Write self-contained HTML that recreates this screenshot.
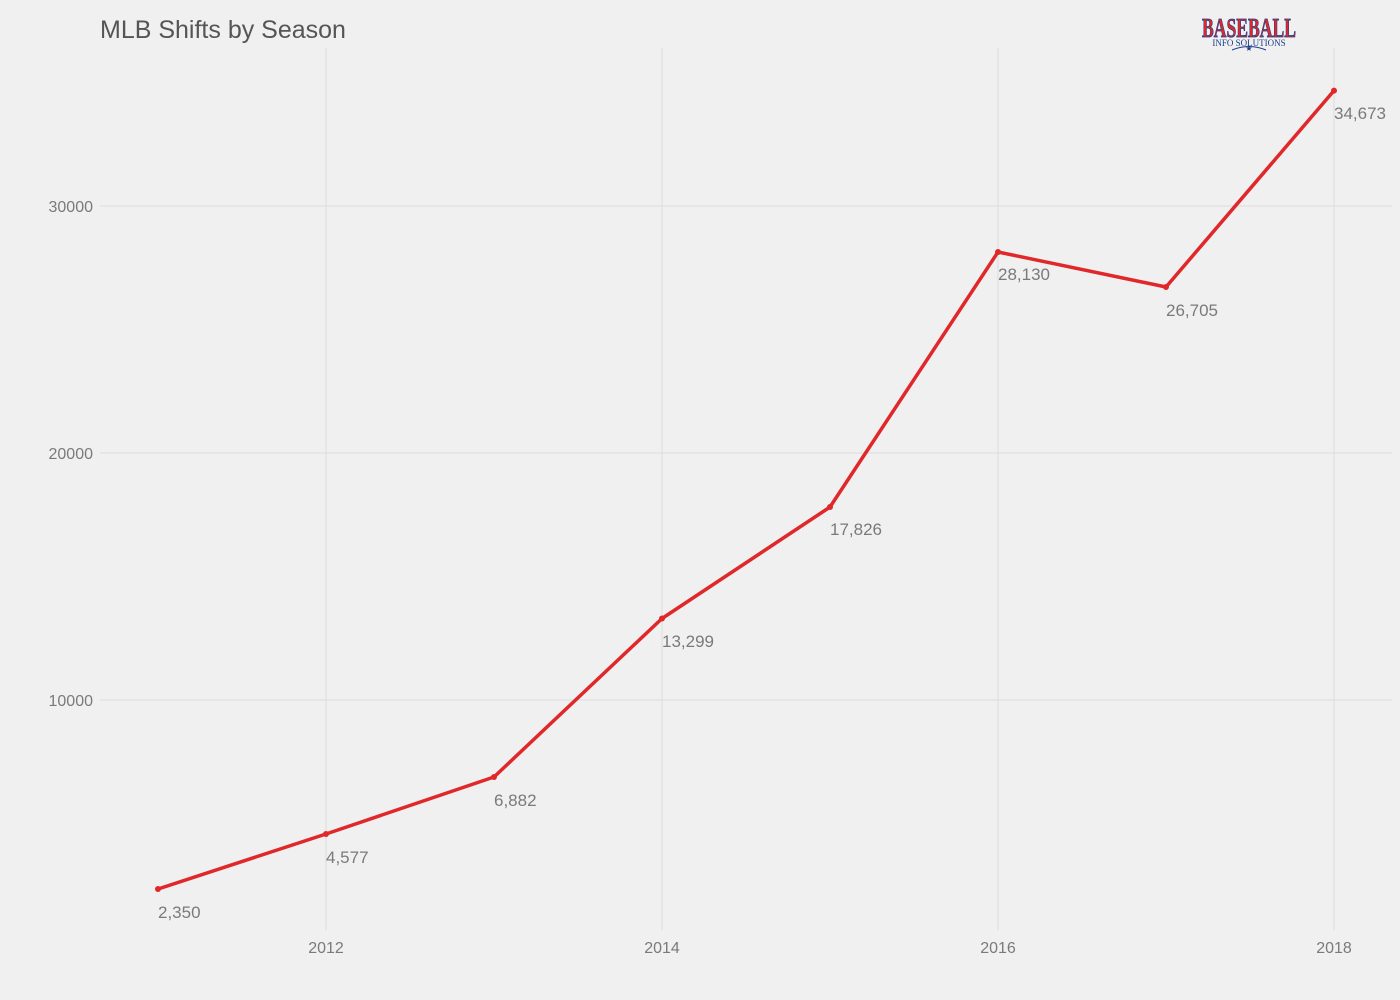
<!DOCTYPE html>
<html><head><style>html,body{margin:0;padding:0;background:#f0f0f0;overflow:hidden}svg{display:block}</style></head><body>
<svg width="1400" height="1000" xmlns="http://www.w3.org/2000/svg" font-family="Liberation Sans, sans-serif">
<rect width="1400" height="1000" fill="#f0f0f0"/>
<g stroke="#dcdcdc" stroke-width="1">
<line x1="100" x2="1392" y1="206" y2="206"/>
<line x1="100" x2="1392" y1="453" y2="453"/>
<line x1="100" x2="1392" y1="700" y2="700"/>
<line x1="326" x2="326" y1="48" y2="930"/>
<line x1="662" x2="662" y1="48" y2="930"/>
<line x1="998" x2="998" y1="48" y2="930"/>
<line x1="1334" x2="1334" y1="48" y2="930"/>
</g>
<g fill="#7a7a7a" font-size="16" text-anchor="end">
<text x="93" y="212">30000</text><text x="93" y="459">20000</text><text x="93" y="706">10000</text>
</g>
<g fill="#7a7a7a" font-size="16" text-anchor="middle">
<text x="326" y="953">2012</text><text x="662" y="953">2014</text><text x="998" y="953">2016</text><text x="1334" y="953">2018</text>
</g>
<text x="100" y="38" font-size="25" fill="#555">MLB Shifts by Season</text>
<polyline fill="none" stroke="#e0282a" stroke-width="3.5" stroke-linejoin="round" points="158,889 326,834 494,777 662,618.5 830,507 998,252 1166,287 1334,90.6"/>
<g fill="#e0282a">
<circle cx="158" cy="889" r="3"/><circle cx="326" cy="834" r="3"/><circle cx="494" cy="777" r="3"/><circle cx="662" cy="618.5" r="3"/><circle cx="830" cy="507" r="3"/><circle cx="998" cy="252" r="3"/><circle cx="1166" cy="287" r="3"/><circle cx="1334" cy="90.6" r="3"/>
</g>
<g fill="#7a7a7a" font-size="17">
<text x="158" y="918">2,350</text><text x="326" y="863">4,577</text><text x="494" y="806">6,882</text><text x="662" y="647">13,299</text><text x="830" y="535">17,826</text><text x="998" y="280">28,130</text><text x="1166" y="316">26,705</text><text x="1334" y="119">34,673</text>
</g>
<text x="1249" y="37" font-size="27" font-weight="bold" fill="#e0282a" stroke="#1a3d8a" stroke-width="0.8" text-anchor="middle" textLength="94" lengthAdjust="spacingAndGlyphs" font-family="Liberation Serif, serif">BASEBALL</text>
<text x="1249" y="46" font-size="9" fill="#1a3d8a" text-anchor="middle" font-family="Liberation Serif, serif">INFO SOLUTIONS</text>
<path d="M1232 50 Q1249 43 1266 50" fill="none" stroke="#1a3d8a" stroke-width="1"/>
<text x="1249" y="51" font-size="8" fill="#1a3d8a" text-anchor="middle">★</text>
</svg>
</body></html>
